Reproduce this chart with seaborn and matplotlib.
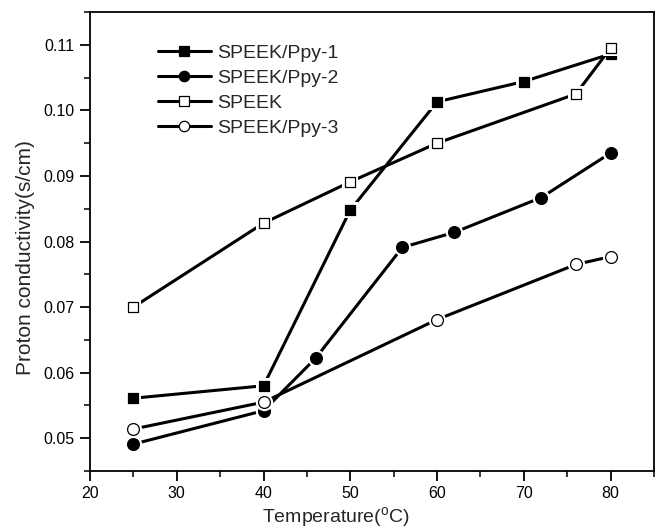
import matplotlib
matplotlib.use("Agg")
import matplotlib.pyplot as plt
import seaborn as sns
import pandas as pd
from matplotlib.ticker import MultipleLocator, FormatStrFormatter

sns.set_style("ticks")
plt.rcParams['font.family'] = ['Liberation Sans', 'DejaVu Sans']
plt.rcParams['mathtext.fontset'] = 'custom'
plt.rcParams['mathtext.rm'] = 'Liberation Sans'

# Data
ppy1_x = [25, 40, 50, 60, 70, 80]
ppy1_y = [0.0561, 0.0580, 0.0848, 0.1013, 0.1044, 0.1086]
ppy2_x = [25, 40, 46, 56, 62, 72, 80]
ppy2_y = [0.0491, 0.0542, 0.0622, 0.0791, 0.0814, 0.0867, 0.0935]
speek_x = [25, 40, 50, 60, 76, 80]
speek_y = [0.0700, 0.0828, 0.0891, 0.0950, 0.1025, 0.1095]
ppy3_x = [25, 40, 60, 76, 80]
ppy3_y = [0.0514, 0.0555, 0.0681, 0.0765, 0.0777]

series = [
    ("SPEEK/Ppy-1", ppy1_x, ppy1_y, "s", "black"),
    ("SPEEK/Ppy-2", ppy2_x, ppy2_y, "o", "black"),
    ("SPEEK", speek_x, speek_y, "s", "white"),
    ("SPEEK/Ppy-3", ppy3_x, ppy3_y, "o", "white"),
]

W, H = 658, 530
fig = plt.figure(figsize=(W / 100, H / 100), dpi=100)
ax = fig.add_axes([90 / W, 1 - 471 / H, (654 - 90) / W, (471 - 12) / H])

for i, (name, xs, ys, mk, fc) in enumerate(series):
    df = pd.DataFrame({"x": xs, "y": ys})
    ms = 7.5 if mk == "s" else 8.5
    sns.lineplot(data=df, x="x", y="y", ax=ax, color="black", lw=2.2,
                 sort=False, legend=False, zorder=2 + i * 3)
    sns.scatterplot(data=df, x="x", y="y", ax=ax, marker=mk, s=(ms + 4) ** 2,
                    color="white", edgecolor="white", linewidth=0, legend=False,
                    zorder=3 + i * 3)
    sns.scatterplot(data=df, x="x", y="y", ax=ax, marker=mk, s=ms ** 2,
                    color=fc, edgecolor="black", linewidth=0.9, legend=False,
                    zorder=4 + i * 3)

handles = [plt.Line2D([], [], color="black", lw=2.2, marker=mk,
                      ms=(6.5 if mk == "s" else 7.5),
                      mfc=fc, mec="black", mew=0.9)
           for (_, _, _, mk, fc) in series]
labels = [s[0] for s in series]
ax.legend(handles, labels, loc="upper left", bbox_to_anchor=(158 / W, 1 - 44 / H),
          bbox_transform=fig.transFigure, frameon=False,
          fontsize=14, handlelength=2.7, handletextpad=0.35, labelspacing=0.38,
          borderaxespad=0, borderpad=0)

ax.set_xlim(20, 85)
ax.set_ylim(0.045, 0.115)
ax.xaxis.set_major_locator(MultipleLocator(10))
ax.xaxis.set_minor_locator(MultipleLocator(5))
ax.yaxis.set_major_locator(MultipleLocator(0.01))
ax.yaxis.set_minor_locator(MultipleLocator(0.005))
ax.yaxis.set_major_formatter(FormatStrFormatter('%.2f'))
ax.tick_params(which="major", direction="out", length=7, width=1.3, labelsize=11.5,
               top=False, right=False, colors="black", pad=4)
ax.tick_params(which="minor", direction="out", length=4, width=1.3, top=False, right=False)
for sp in ax.spines.values():
    sp.set_linewidth(1.3)
    sp.set_color("black")

ax.set_xlabel(r"Temperature($^\mathregular{o}$C)", fontsize=14)
ax.set_ylabel("Proton conductivity(s/cm)", fontsize=15)
ax.xaxis.set_label_coords(0.436, -0.075)
ax.yaxis.set_label_coords(-0.097, 0.466)

fig.savefig("out.png", dpi=100)
